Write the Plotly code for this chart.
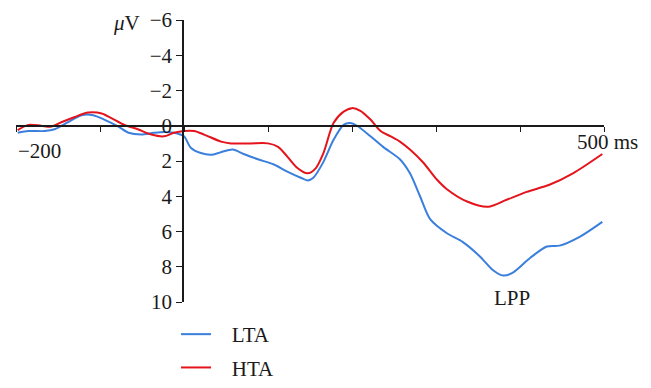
import plotly.graph_objects as go

# Time (ms) and amplitude (µV)
lta_t = [-198, -185, -166, -154, -138, -122, -108, -95, -78, -66, -51, -36, -24, -12, 0, 8, 20, 32, 44,
         58, 71, 88, 107, 123, 139, 147, 154, 166, 178, 190, 198, 206, 222, 237, 257, 269, 281, 293,
         313, 332, 352, 368, 380, 391, 412, 432, 447, 471, 498]
lta_v = [0.4, 0.3, 0.3, 0.2, -0.2, -0.6, -0.6, -0.35, 0.05, 0.4, 0.5, 0.4, 0.35, 0.4, 0.6, 1.25, 1.55, 1.65, 1.5,
         1.35, 1.6, 1.9, 2.2, 2.6, 2.95, 3.1, 2.95, 2.05, 0.8, -0.05, -0.15, 0.0, 0.6, 1.2, 1.9, 2.7, 4.0, 5.3,
         6.1, 6.6, 7.4, 8.2, 8.5, 8.35, 7.5, 6.85, 6.8, 6.3, 5.45]

hta_t = [-198, -185, -170, -158, -146, -130, -114, -98, -87, -71, -55, -39, -24, -12, 0, 12, 24, 44, 56,
         79, 100, 112, 123, 135, 147, 157, 166, 178, 190, 200, 210, 222, 234, 246, 257, 269, 285, 301,
         313, 337, 362, 384, 408, 435, 463, 498]
hta_v = [0.25, -0.05, 0.0, 0.05, -0.2, -0.5, -0.75, -0.7, -0.45, -0.05, 0.2, 0.5, 0.6, 0.4, 0.3, 0.3, 0.5, 0.9, 1.0,
         1.0, 1.0, 1.2, 1.75, 2.4, 2.7, 2.4, 1.55, -0.15, -0.8, -1.0, -0.85, -0.35, 0.3, 0.6, 0.9, 1.35, 2.1, 3.05,
         3.6, 4.3, 4.6, 4.2, 3.75, 3.35, 2.7, 1.6]

x_ticks = [-200, -100, 0, 100, 200, 300, 400, 500]
y_ticks = [-6, -4, -2, 0, 2, 4, 6, 8, 10]
y_ticktext = ["−6", "−4", "−2", "0", "2", "4", "6", "8", "10"]

FONT = "Liberation Serif"
FS = 21
BLUE = "#3b7fdd"
RED = "#e3141c"

fig = go.Figure()
fig.add_trace(go.Scatter(x=lta_t, y=lta_v, mode="lines", name="   LTA", legendgroup="a",
                         line=dict(color=BLUE, width=2, shape="spline", smoothing=0.8)))
fig.add_trace(go.Scatter(x=hta_t, y=hta_v, mode="lines", name="   HTA", legendgroup="b",
                         line=dict(color=RED, width=2, shape="spline", smoothing=0.8)))

# page has an 8px body margin; figure sized to fill the rest of the window
W, H = 643, 380
L, T = 8, 12
R = W - 596
B = H - 294
plot_w = W - L - R
plot_h = H - T - B

fig.update_layout(
    width=W, height=H,
    margin=dict(l=L, r=R, t=T, b=B, pad=0, autoexpand=False),
    plot_bgcolor="white", paper_bgcolor="white",
    font=dict(family=FONT, size=FS, color="#1a1a1a"),
    showlegend=True,
    legend=dict(x=(168 - L) / plot_w, y=-12 / plot_h, xanchor="left", yanchor="top",
                font=dict(size=FS), tracegroupgap=3, bgcolor="rgba(0,0,0,0)", itemwidth=30),
    xaxis=dict(range=[-200, 500], showgrid=False, zeroline=False,
               anchor="free", position=(302 - 126) / plot_h,
               showline=True, linecolor="#1a1a1a", linewidth=1.6,
               tickvals=x_ticks, ticktext=[""] * len(x_ticks),
               ticks="outside", ticklen=5, tickwidth=1.4, tickcolor="#1a1a1a"),
    yaxis=dict(range=[10, -6], showgrid=False, zeroline=False,
               anchor="free", position=(183 - 16) / plot_w,
               showline=True, linecolor="#1a1a1a", linewidth=1.6,
               tickvals=y_ticks, ticktext=y_ticktext,
               ticks="outside", ticklen=6, tickwidth=1.4, tickcolor="#1a1a1a",
               tickfont=dict(size=FS)),
    annotations=[
        dict(x=-200, y=1.45, xref="x", yref="y", text="−200", showarrow=False,
             xanchor="left", yanchor="middle", font=dict(size=FS)),
        dict(x=500, y=0.95, xref="x", yref="y", text="500 ms", showarrow=False,
             xanchor="center", yanchor="middle", xshift=3, font=dict(size=FS)),
        dict(x=391, y=9.8, xref="x", yref="y", text="LPP", showarrow=False,
             xanchor="center", yanchor="middle", font=dict(size=FS)),
        dict(x=-68, y=-5.85, xref="x", yref="y", text="<i>μ</i>V", showarrow=False,
             xanchor="center", yanchor="middle", font=dict(size=FS)),
    ],
)

fig.write_html("out.html")
